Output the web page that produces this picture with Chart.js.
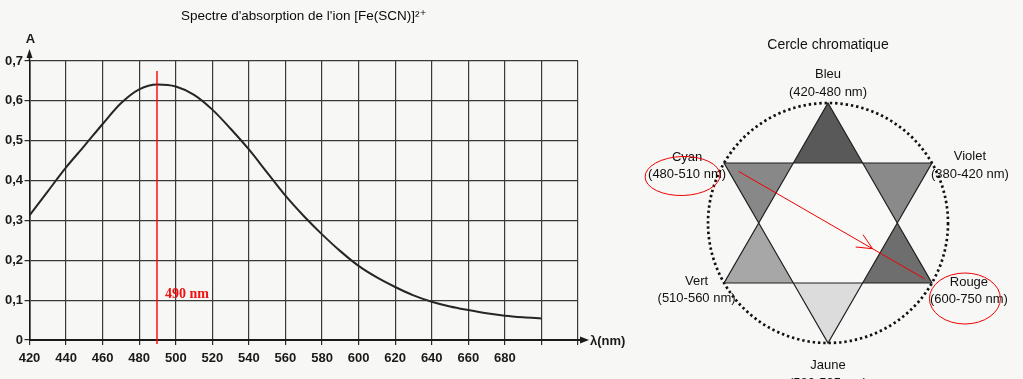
<!DOCTYPE html>
<html><head><meta charset="utf-8">
<script src="https://cdn.jsdelivr.net/npm/chart.js@4.4.1/dist/chart.umd.min.js"></script>
<style>
html,body{margin:0;padding:0;background:#f7f7f5;}
#wrap{position:relative;width:1023px;height:379px;overflow:hidden;background:#f7f7f5;}
#left{position:absolute;left:0;top:0;}
#right{position:absolute;left:630px;top:0;}
</style></head><body>
<div id="wrap"><canvas id="left" width="630" height="379"></canvas><canvas id="right" width="393" height="379"></canvas></div>
<script>
// ---- Spectrum data ----
const wavelengths = [420,430,440,450,460,470,480,490,500,510,520,530,540,550,560,570,580,590,600,610,620,630,640,650,660,670,680,690,700];
const absorbance  = [0.3125,0.373,0.433,0.487,0.542,0.594,0.629,0.641,0.636,0.615,0.578,0.53,0.478,0.42,0.362,0.311,0.265,0.223,0.186,0.157,0.133,0.112,0.096,0.084,0.075,0.067,0.061,0.057,0.054];
const xTickLabels = ['420','440','460','480','500','520','540','560','580','600','620','640','660','680','',''];
const yTickLabels = ['0','0,1','0,2','0,3','0,4','0,5','0,6','0,7'];
const markerWavelength = 490;
const markerLabel = '490 nm';

// ---- Chromatic circle ----
const colorNames  = ['Bleu','Violet','Rouge','Jaune','Vert','Cyan'];
const colorRanges = ['(420-480 nm)','(380-420 nm)','(600-750 nm)','(580-595 nm)','(510-560 nm)','(480-510 nm)'];
const tipShades   = ['#595959','#8a8a8a','#6e6e6e','#dcdcdc','#a7a7a7','#888888'];

const FONT = '"Liberation Sans", "DejaVu Sans", Arial, sans-serif';

const leftDecor = {
  id: 'leftDecor',
  afterDraw(chart) {
    const {ctx, chartArea: a, scales: {x, y}} = chart;
    const x0 = x.getPixelForValue(420), y0 = y.getPixelForValue(0);
    ctx.save();
    ctx.strokeStyle = '#1a1a1a'; ctx.fillStyle = '#1a1a1a';
    ctx.lineWidth = 1.6;
    ctx.beginPath(); ctx.moveTo(x0, a.top); ctx.lineTo(x0, a.top - 6); ctx.stroke();
    ctx.beginPath(); ctx.moveTo(x0, a.top - 12); ctx.lineTo(x0 - 3, a.top - 3); ctx.lineTo(x0 + 3, a.top - 3); ctx.closePath(); ctx.fill();
    ctx.lineWidth = 2;
    ctx.beginPath(); ctx.moveTo(a.right, y0); ctx.lineTo(a.right + 5, y0); ctx.stroke();
    ctx.beginPath(); ctx.moveTo(a.right + 11, y0); ctx.lineTo(a.right + 2, y0 - 3.5); ctx.lineTo(a.right + 2, y0 + 3.5); ctx.closePath(); ctx.fill();
    ctx.font = 'bold 13px ' + FONT; ctx.textBaseline = 'middle';
    ctx.textAlign = 'left'; ctx.fillText('λ(nm)', a.right + 12, y0 + 1);
    ctx.textAlign = 'center'; ctx.fillText('A', x0 + 1, a.top - 22);
    const xr = Math.round(x.getPixelForValue(markerWavelength));
    ctx.strokeStyle = '#ff0000'; ctx.lineWidth = 1.4;
    ctx.beginPath(); ctx.moveTo(xr, y.getPixelForValue(0.675)); ctx.lineTo(xr, y0 + 4); ctx.stroke();
    ctx.fillStyle = '#f01010'; ctx.font = 'bold 14px "Liberation Serif", "DejaVu Serif", serif'; ctx.textAlign = 'left';
    ctx.fillText(markerLabel, xr + 8, y.getPixelForValue(0.114));
    ctx.restore();
  }
};

new Chart(document.getElementById('left'), {
  type: 'line',
  data: { datasets: [{
    data: wavelengths.map((w, i) => ({x: w, y: absorbance[i]})),
    borderColor: '#262626', borderWidth: 2, pointRadius: 0,
    cubicInterpolationMode: 'monotone', fill: false
  }]},
  options: {
    responsive: false, animation: false, events: [],
    layout: { padding: { left: 0, right: 52, top: 0, bottom: 0 } },
    plugins: {
      legend: { display: false }, tooltip: { enabled: false },
      title: { display: true, fullSize: false, text: "Spectre d'absorption de l'ion [Fe(SCN)]²⁺",
        color: '#0a0a0a', font: { family: FONT, size: 13.5, weight: 'normal' }, padding: { top: 7.8, bottom: 37 } }
    },
    scales: {
      x: { type: 'linear', min: 420, max: 720,
        afterFit(s) { s.height = 39; },
        ticks: { stepSize: 20, autoSkip: false, maxRotation: 0, callback: (v, i) => xTickLabels[i],
          color: '#1a1a1a', font: { family: FONT, size: 13, weight: 'bold' }, padding: 6 },
        grid: { color: '#3a3a3a', lineWidth: 1.2, tickLength: 5, tickColor: '#2a2a2a' },
        border: { color: '#1a1a1a', width: 2 } },
      y: { min: 0, max: 0.7,
        afterFit(s) { s.width = 29.5; },
        ticks: { stepSize: 0.1, callback: (v, i) => yTickLabels[i],
          color: '#1a1a1a', font: { family: FONT, size: 13, weight: 'bold' }, padding: 1.5 },
        grid: { color: '#3a3a3a', lineWidth: 1.2, tickLength: 5, tickColor: '#2a2a2a' },
        border: { color: '#1a1a1a', width: 1.6 } }
    }
  },
  plugins: [leftDecor]
});

// ---- radar-based hexagram ----
const N = 12;
const INNER = 1 / Math.sqrt(3), MID = 0.5;
const radarLabels = [];
colorNames.forEach(n => { radarLabels.push(n, ''); });
function tipData(k) { const d = new Array(N).fill(0); d[2*k] = 1; d[(2*k+1) % N] = INNER; d[(2*k+N-1) % N] = INNER; return d; }
const hexData = Array.from({length: N}, (_, i) => i % 2 ? INNER : MID);
const triA = Array.from({length: N}, (_, i) => i % 2 ? INNER : ((i/2) % 2 === 0 ? 1 : MID));
const triB = Array.from({length: N}, (_, i) => i % 2 ? INNER : ((i/2) % 2 === 0 ? MID : 1));

const datasets = [];
colorNames.forEach((n, k) => datasets.push({ data: tipData(k), backgroundColor: tipShades[k], borderWidth: 0, borderColor: 'rgba(0,0,0,0)', fill: true, order: 3 }));
datasets.push({ data: hexData, backgroundColor: '#f9f9f7', borderWidth: 0, borderColor: 'rgba(0,0,0,0)', fill: true, order: 2 });
datasets.push({ data: triA, borderColor: '#1e1e1e', borderWidth: 1.2, fill: false, order: 1 });
datasets.push({ data: triB, borderColor: '#1e1e1e', borderWidth: 1.2, fill: false, order: 1 });

const labelOffsets = [[0,-29,-10.5],[38,-6.5,11],[37,-1,16],[0,22,40],[-27.5,-2,15.5],[-37,-5.5,11]];

const rightDecor = {
  id: 'rightDecor',
  afterDraw(chart) {
    const {ctx} = chart; const r = chart.scales.r; const R = r.drawingArea;
    ctx.save();
    ctx.font = '13px ' + FONT; ctx.fillStyle = '#111'; ctx.textAlign = 'center'; ctx.textBaseline = 'middle';
    colorNames.forEach((name, k) => {
      const p = r.getPointPosition(2*k, R); const o = labelOffsets[k];
      ctx.fillText(name, p.x + o[0], p.y + o[1]);
      ctx.fillText(colorRanges[k], p.x + o[0], p.y + o[2]);
    });
    // red annotations
    ctx.strokeStyle = '#ee0000'; ctx.lineWidth = 1;
    const pc = r.getPointPosition(10, R), pr = r.getPointPosition(4, R);
    ctx.beginPath(); ctx.ellipse(pc.x - 41.5, pc.y + 13, 37.5, 19.5, -0.03, 0, Math.PI*2); ctx.stroke();
    ctx.beginPath(); ctx.ellipse(pr.x + 33, pr.y + 15.5, 35.5, 25.5, 0, 0, Math.PI*2); ctx.stroke();
    const s = r.getPointPosition(10, R*0.86), e = r.getPointPosition(4, R*0.93);
    ctx.beginPath(); ctx.moveTo(s.x, s.y); ctx.lineTo(e.x, e.y); ctx.stroke();
    const t = 0.72, hx = s.x + (e.x - s.x)*t, hy = s.y + (e.y - s.y)*t;
    const ang = Math.atan2(e.y - s.y, e.x - s.x) + Math.PI;
    [0.45, -0.42].forEach(d => {
      ctx.beginPath(); ctx.moveTo(hx, hy); ctx.lineTo(hx + 17*Math.cos(ang + d), hy + 17*Math.sin(ang + d)); ctx.stroke();
    });
    ctx.restore();
  }
};

new Chart(document.getElementById('right'), {
  type: 'radar',
  data: { labels: radarLabels, datasets },
  options: {
    responsive: false, animation: false, events: [],
    layout: { padding: { left: 78, right: 75, top: 0, bottom: 36 } },
    elements: { line: { tension: 0 }, point: { radius: 0 } },
    plugins: {
      legend: { display: false }, tooltip: { enabled: false },
      title: { display: true, text: 'Cercle chromatique', color: '#111', font: { family: FONT, size: 14, weight: 'normal' }, padding: { top: 36.6, bottom: 49.6 } }
    },
    scales: { r: { min: 0, max: 1,
      ticks: { display: false, stepSize: 1 },
      grid: { circular: true, color: '#111', lineWidth: 2.7 },
      border: { dash: [2.4, 2.9] },
      angleLines: { display: false },
      pointLabels: { display: false } } }
  },
  plugins: [rightDecor]
});
</script>
</body></html>
